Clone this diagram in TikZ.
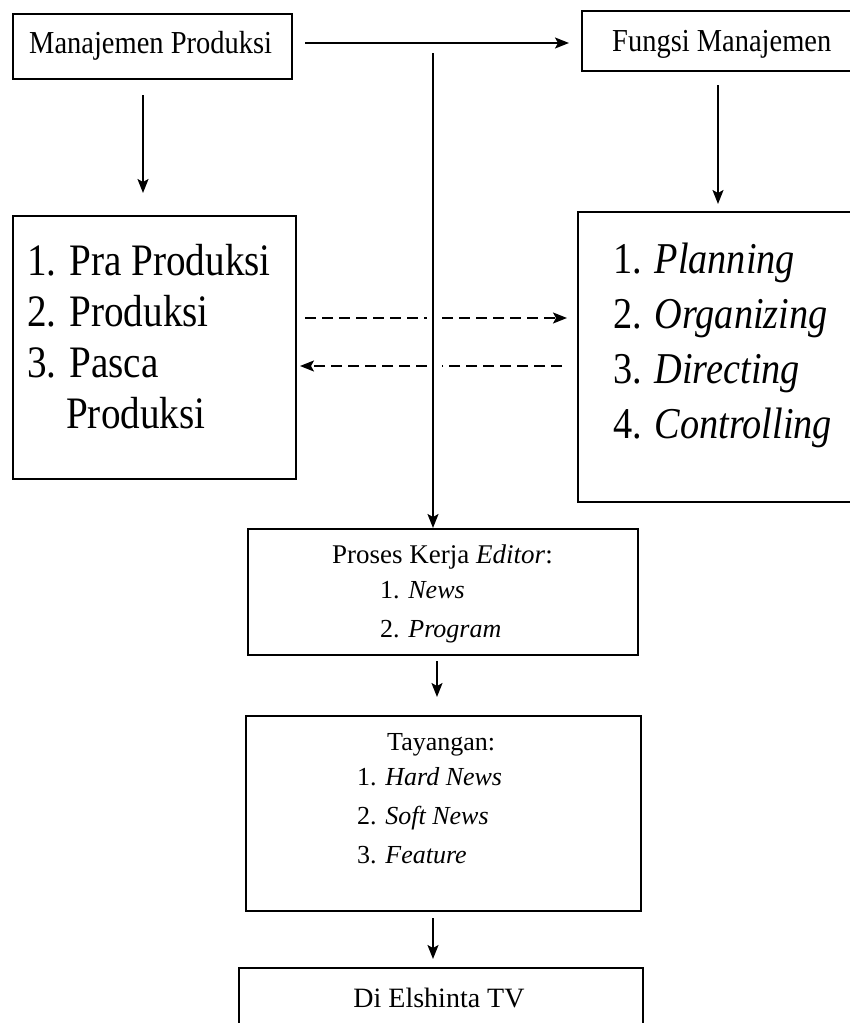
\documentclass[tikz,border=0pt]{standalone}
\usepackage{fontspec}
\setmainfont{Liberation Serif}
\newfontfamily\condA[FakeStretch=0.89]{Liberation Serif}
\newfontfamily\condB[FakeStretch=0.87]{Liberation Serif}
\usetikzlibrary{arrows.meta}
\begin{document}
\begin{tikzpicture}[x=1pt,y=-1pt,
  box/.style={draw, line width=1.6pt, inner sep=0pt, anchor=north west},
  txt/.style={inner sep=0pt, anchor=base west},
  ctxt/.style={inner sep=0pt, anchor=base},
  tip/.style={-{Stealth[length=14pt,width=11pt,inset=3pt]}},
  conn/.style={line width=1.5pt, tip},
  dline/.style={line width=1.6pt, dash pattern=on 11pt off 6pt},
  dconn/.style={dline, tip}]
\fill[white] (0,0) rectangle (850,1023);
\useasboundingbox (0,0) rectangle (850,1023);
\clip (0,0) rectangle (850,1023);

% boxes
\node[box, minimum width=279pt, minimum height=65pt] (b1) at (12,13) {};
\node[box, minimum width=290pt, minimum height=60pt] (b2) at (581,10) {};
\node[box, minimum width=283pt, minimum height=263pt] (bl) at (12,215) {};
\node[box, minimum width=290pt, minimum height=290pt] (br) at (577,211) {};
\node[box, minimum width=390pt, minimum height=126pt] (b3) at (247,528) {};
\node[box, minimum width=395pt, minimum height=195pt] (b4) at (245,715) {};
\node[box, minimum width=404pt, minimum height=120pt] (b5) at (238,967) {};

% texts
\node[txt, font=\condA\fontsize{32}{36}\selectfont] (t1) at (29,53) {Manajemen Produksi};
\node[txt, font=\condA\fontsize{32}{36}\selectfont] (t2) at (612,51) {Fungsi Manajemen};

\node[txt, font=\condB\fontsize{45}{50}\selectfont] (l1) at (27,275) {1. Pra Produksi};
\node[txt, font=\condB\fontsize{45}{50}\selectfont] (l2) at (27,326) {2. Produksi};
\node[txt, font=\condB\fontsize{45}{50}\selectfont] (l3) at (27,377) {3. Pasca};
\node[txt, font=\condB\fontsize{45}{50}\selectfont] (l4) at (66,428) {Produksi};

\node[txt, font=\condB\fontsize{44}{50}\selectfont] (r1) at (613,273) {1. \textit{Planning}};
\node[txt, font=\condB\fontsize{44}{50}\selectfont] (r2) at (613,328) {2. \textit{Organizing}};
\node[txt, font=\condB\fontsize{44}{50}\selectfont] (r3) at (613,383) {3. \textit{Directing}};
\node[txt, font=\condB\fontsize{44}{50}\selectfont] (r4) at (613,438) {4. \textit{Controlling}};

\node[txt, font=\fontsize{27}{30}\selectfont] (p0) at (332,563) {Proses Kerja \textit{Editor}:};
\node[txt, font=\fontsize{26}{30}\selectfont] (p1) at (380,598) {1. \textit{News}};
\node[txt, font=\fontsize{26}{30}\selectfont] (p2) at (380,637) {2. \textit{Program}};

\node[txt, font=\fontsize{26}{30}\selectfont] (y0) at (387,750) {Tayangan:};
\node[txt, font=\fontsize{26}{30}\selectfont] (y1) at (357,785) {1. \textit{Hard News}};
\node[txt, font=\fontsize{26}{30}\selectfont] (y2) at (357,824) {2. \textit{Soft News}};
\node[txt, font=\fontsize{26}{30}\selectfont] (y3) at (357,863) {3. \textit{Feature}};

\node[ctxt, font=\fontsize{28}{32}\selectfont] (e0) at (439,1007) {Di Elshinta TV};

% connectors
\coordinate (h1) at (305,43);
\coordinate (h2) at (569,43);
\draw[conn] (h1) -- (h2);

\coordinate (v0) at (433,53);
\draw[conn] (v0) -- (v0 |- b3.north);

\coordinate (a1) at (143,95);
\coordinate (a2) at (143,193);
\draw[conn] (a1) -- (a2);

\coordinate (c1) at (718,85);
\coordinate (c2) at (718,204);
\draw[conn] (c1) -- (c2);

\coordinate (d1) at (305,318);
\coordinate (d1m) at (427,318);
\coordinate (d2m) at (442,318);
\coordinate (d2) at (567,318);
\draw[dline] (d1) -- (d1m);
\draw[dconn] (d2m) -- (d2);
\coordinate (d3) at (562,366);
\coordinate (d3m) at (442,366);
\coordinate (d4m) at (427,366);
\coordinate (d4) at (300,366);
\draw[dline] (d3) -- (d3m);
\draw[dconn] (d4m) -- (d4);

\coordinate (g1) at (437,661);
\coordinate (g2) at (437,697);
\draw[conn] (g1) -- (g2);

\coordinate (k1) at (433,918);
\coordinate (k2) at (433,959);
\draw[conn] (k1) -- (k2);
\end{tikzpicture}
\end{document}
